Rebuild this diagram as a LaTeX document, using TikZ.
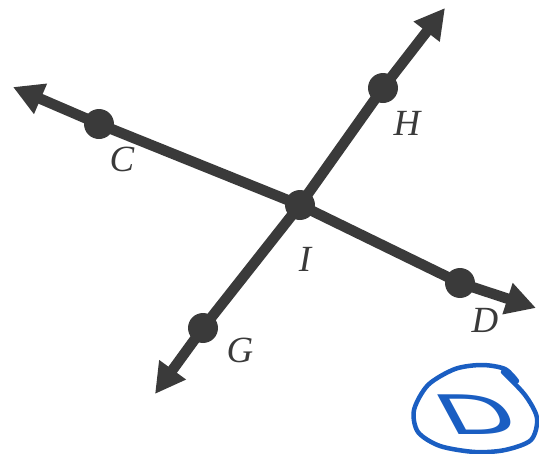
\documentclass[tikz,border=0pt]{standalone}
\usepackage{fontspec}
\setmainfont{Liberation Serif}
\setsansfont{DejaVu Sans}
\usetikzlibrary{arrows.meta}
\definecolor{ink}{HTML}{3A3A3A}
\definecolor{pen}{HTML}{1A5EC2}
\tikzset{
  dot/.style={circle, fill=ink, inner sep=0pt, minimum size=0.6cm},
  lbl/.style={text=ink, font=\fontsize{21}{25}\selectfont\itshape},
  bigline/.style={draw=ink, line width=0.21cm, line join=round, <->},
  penline/.style={draw=pen, line width=0.09cm, line cap=round, line join=round},
}

\begin{document}
\begin{tikzpicture}[>={Triangle[length=0.6cm,width=0.62cm]}, x=0.02cm, y=-0.02cm]
\useasboundingbox (0,0) rectangle (539,454);
% Define the ends and the points
\coordinate (endC) at (13,87);
\coordinate (endD) at (536,308);
\coordinate (endG) at (155,394);
\coordinate (endH) at (445,8);
\node[dot] (C) at (99,124) {};
\node[dot] (I) at (300,205) {};
\node[dot] (D) at (460,283) {};
\node[dot] (G) at (203,328) {};
\node[dot] (H) at (383,88) {};

% Draw the two lines
\draw[bigline] (endC) -- (C.center) -- (I.center) -- (D.center) -- (endD);
\draw[bigline] (endG) -- (G.center) -- (I.center) -- (H.center) -- (endH);

% Labels
\node[lbl] (lblC) at (122,159) {C};
\node[lbl] (lblH) at (407,123) {H};
\node[lbl] (lblI) at (305,259) {I};
\node[lbl] (lblD) at (485,320) {D};
\node[lbl] (lblG) at (240,350) {G};

% Handwritten answer
\node[text=pen, font=\fontsize{31}{31}\selectfont\sffamily, xscale=1.8, xslant=-0.3] (answer) at (477,415) {D};
\draw[penline] plot[smooth] coordinates {(503,372) (525,395) (537,418) (531,440) (505,450) (475,452) (440,446) (418,432) (414,410) (428,385) (455,369) (482,365) (505,369) (517,381)};
\end{tikzpicture}
\end{document}
